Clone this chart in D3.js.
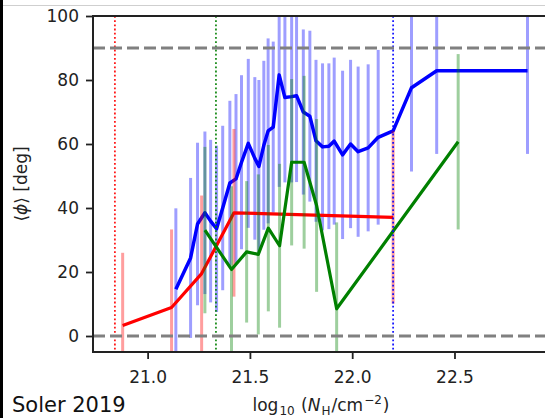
<!DOCTYPE html>
<html>
<head>
<meta charset="utf-8">
<script src="https://cdn.jsdelivr.net/npm/d3@7"></script>
<style>
  html, body { margin: 0; padding: 0; background: #fff; }
  svg { display: block; }
</style>
</head>
<body>
<svg id="chart" width="545" height="418"></svg>
<script>
// ---------------- data ----------------
const xTicks = [21.0, 21.5, 22.0, 22.5];
const yTicks = [0, 20, 40, 60, 80, 100];

const blueX = [21.138, 21.210, 21.244, 21.280, 21.308, 21.337, 21.367, 21.402, 21.432, 21.459,
               21.492, 21.524, 21.544, 21.568, 21.589, 21.614, 21.643, 21.671, 21.704, 21.728,
               21.761, 21.793, 21.823, 21.855, 21.886, 21.912, 21.953, 21.992, 22.029, 22.078,
               22.127, 22.200, 22.290, 22.413, 22.857];
const blueY = [14.6, 24.4, 35.0, 38.5, 35.9, 33.5, 40.0, 47.8, 49.1, 54.3,
               60.2, 55.5, 53.0, 59.6, 64.1, 65.3, 81.6, 74.5, 74.8, 75.1,
               70.0, 68.7, 61.0, 59.1, 59.3, 60.9, 56.6, 60.0, 57.6, 58.8,
               62.1, 64.1, 77.6, 82.9, 82.9];
const blueErr = [25.3, 25.0, 25.4, 25.4, 25.4, 26.0, 25.7, 25.7, 26.5, 27.2,
                 26.4, 25.4, 27.0, 26.4, 28.9, 26.7, 35.0, 26.5, 26.8, 27.0,
                 25.8, 26.7, 25.3, 26.1, 25.9, 26.1, 26.3, 26.3, 26.6, 26.1,
                 27.3, 0, 26.2, 26.0, 26.0];

const redX = [20.878, 21.117, 21.264, 21.422, 22.200];
const redY = [3.3, 8.9, 19.5, 38.5, 37.1];
const redErr = [22.7, 24.4, 24.4, 26.2, 27.0];

const greenX = [21.280, 21.410, 21.484, 21.541, 21.590, 21.645, 21.704, 21.765, 21.826, 21.924, 22.518];
const greenY = [33.1, 20.8, 26.3, 25.5, 33.7, 28.2, 54.3, 54.3, 40.8, 8.5, 60.7];
const greenErr = [26.0, 26.0, 22.1, 25.0, 26.0, 25.6, 26.0, 27.0, 27.0, 27.0, 27.4];

const vLinesX = [20.84, 21.334, 22.2];
const vLinesColor = ["#ff0000", "#008000", "#0000ff"];
const hLinesY = [0, 90];

// ---------------- layout ----------------
const svg = d3.select("#chart");
const L = 93, R = 549, T = 16, B = 352;

const x = d3.scaleLinear().domain([20.733, 22.962]).range([L, R]);
const y = d3.scaleLinear().domain([-5, 100]).range([B, T]);

// frame decorations of the screenshot
svg.append("rect").attr("x", 0).attr("y", 0).attr("width", 545).attr("height", 418).attr("fill", "#fff");
svg.append("line").attr("x1", 0).attr("x2", 545).attr("y1", 5.5).attr("y2", 5.5)
  .attr("stroke", "#cfcfcf").attr("stroke-width", 1);
svg.append("rect").attr("x", 0).attr("y", 0).attr("width", 3).attr("height", 418).attr("fill", "#000");

svg.append("defs").append("clipPath").attr("id", "plotclip")
  .append("rect").attr("x", L).attr("y", T).attr("width", R - L).attr("height", B - T);

const plot = svg.append("g").attr("clip-path", "url(#plotclip)");

function series(xs, ys, errs, color, lw) {
  const pts = xs.map((v, i) => ({ x: v, y: ys[i], e: errs[i] }));
  plot.append("g").selectAll("line").data(pts.filter(d => d.e > 0)).join("line")
    .attr("x1", d => x(d.x)).attr("x2", d => x(d.x))
    .attr("y1", d => y(d.y - d.e)).attr("y2", d => y(d.y + d.e))
    .attr("stroke", color).attr("stroke-opacity", 0.38).attr("stroke-width", 3);
  plot.append("path").datum(pts)
    .attr("d", d3.line().x(d => x(d.x)).y(d => y(d.y)))
    .attr("fill", "none").attr("stroke", color).attr("stroke-width", lw)
    .attr("stroke-linejoin", "round").attr("stroke-linecap", "butt");
}

series(blueX, blueY, blueErr, "#0000ff", 3.5);
series(redX, redY, redErr, "#ff0000", 3.2);
series(greenX, greenY, greenErr, "#008000", 3.2);

// vertical dotted lines
plot.append("g").selectAll("line").data(vLinesX).join("line")
  .attr("x1", d => x(d)).attr("x2", d => x(d))
  .attr("y1", T).attr("y2", B)
  .attr("stroke", (d, i) => vLinesColor[i]).attr("stroke-width", 1.8)
  .attr("stroke-dasharray", "1.8,2.4").attr("stroke-opacity", 0.9);

// horizontal dashed lines
plot.append("g").selectAll("line").data(hLinesY).join("line")
  .attr("x1", L).attr("x2", R)
  .attr("y1", d => y(d)).attr("y2", d => y(d))
  .attr("stroke", "#808080").attr("stroke-width", 3)
  .attr("stroke-dasharray", "12,5");

// axes
const tickFont = "DejaVu Sans, sans-serif";
const yAxis = svg.append("g").attr("transform", `translate(${L},0)`)
  .call(d3.axisLeft(y).tickValues(yTicks).tickFormat(d3.format("d")).tickSize(7).tickPadding(7));
const xAxis = svg.append("g").attr("transform", `translate(0,${B})`)
  .call(d3.axisBottom(x).tickValues(xTicks).tickFormat(d3.format(".1f")).tickSize(7).tickPadding(12));
[xAxis, yAxis].forEach(g => {
  g.select(".domain").remove();
  g.selectAll(".tick line").attr("stroke", "#222").attr("stroke-width", 1.8);
  g.selectAll(".tick text").attr("fill", "#222").style("font-family", tickFont).style("font-size", "17px");
});

// spines (left, top, bottom)
const spine = svg.append("g").attr("stroke", "#222").attr("stroke-width", 2).attr("fill", "none");
spine.append("line").attr("x1", L).attr("x2", L).attr("y1", T - 1).attr("y2", B + 1);
spine.append("line").attr("x1", L).attr("x2", 545).attr("y1", T).attr("y2", T);
spine.append("line").attr("x1", L).attr("x2", 545).attr("y1", B).attr("y2", B);

// axis labels
const xl = svg.append("text").attr("x", (L + R) / 2).attr("y", 411).attr("text-anchor", "middle")
  .style("font-family", tickFont).style("font-size", "17px").attr("fill", "#222");
xl.append("tspan").text("log");
xl.append("tspan").attr("dy", 4).attr("dx", 1).style("font-size", "12px").text("10");
xl.append("tspan").attr("dy", -4).attr("dx", 1).text(" (");
xl.append("tspan").style("font-style", "italic").text("N");
xl.append("tspan").attr("dy", 4).attr("dx", 1).style("font-size", "12px").text("H");
xl.append("tspan").attr("dy", -4).attr("dx", 1).text("/cm");
xl.append("tspan").attr("dy", -7).attr("dx", 1).style("font-size", "12px").text("\u22122");
xl.append("tspan").attr("dy", 7).attr("dx", 1).text(")");

const yl = svg.append("text").attr("transform", `translate(27,${(T + B) / 2}) rotate(-90)`)
  .attr("text-anchor", "middle")
  .style("font-family", tickFont).style("font-size", "17px").attr("fill", "#222");
yl.append("tspan").text("\u27E8");
yl.append("tspan").style("font-style", "italic").text("\u03D5");
yl.append("tspan").text("\u27E9 [deg]");

svg.append("text").attr("x", 12).attr("y", 412)
  .style("font-family", "DejaVu Sans, sans-serif").style("font-size", "21px")
  .attr("fill", "#111").text("Soler 2019");
</script>
</body>
</html>
